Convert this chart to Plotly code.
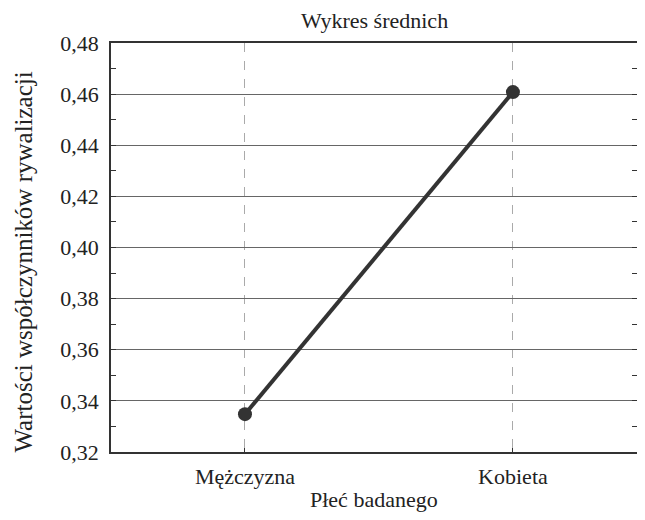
import plotly.graph_objects as go

categories = ["Mężczyzna", "Kobieta"]
means = [0.3348, 0.4608]
y_ticks = [0.32, 0.34, 0.36, 0.38, 0.40, 0.42, 0.44, 0.46, 0.48]

title_text = "Wykres średnich"
x_title = "Płeć badanego"
y_title = "Wartości współczynników rywalizacji"

FONT = "Liberation Serif"
DARK = "#333333"
TXT = "#222222"

fig = go.Figure()
fig.add_trace(go.Scatter(
    x=categories, y=means, mode="lines+markers",
    line=dict(color=DARK, width=4),
    marker=dict(color=DARK, size=14),
    showlegend=False,
))
fig.add_trace(go.Scatter(x=categories, y=means, yaxis="y2", mode="markers",
                         marker=dict(opacity=0), showlegend=False, hoverinfo="skip"))

fig.update_layout(
    width=629, height=504,
    margin=dict(l=103, r=0, t=35, b=60, autoexpand=False),
    paper_bgcolor="white", plot_bgcolor="white",
    separators=", ",
    font=dict(family=FONT, size=22, color=TXT),
    xaxis=dict(
        type="category", range=[-0.5, 1.463], automargin=False,
        showline=True, linecolor=DARK, linewidth=1.5, mirror=True,
        showgrid=True, gridcolor="#aaaaaa", griddash="dash", gridwidth=1,
        ticks="inside", ticklen=4, tickcolor=DARK,
        ticklabelstandoff=4,
        tickfont=dict(family=FONT, size=22),
    ),
    yaxis=dict(
        range=[0.32, 0.48], tickvals=y_ticks, tickformat=".2f", automargin=False,
        showline=True, linecolor=DARK, linewidth=1.5,
        showgrid=True, gridcolor="#666666", gridwidth=1.2,
        ticks="inside", ticklen=5, tickcolor=DARK,
        minor=dict(dtick=0.01, ticks="inside", ticklen=5, tickcolor=DARK, showgrid=False),
        ticklabelstandoff=6,
        tickfont=dict(family=FONT, size=22),
        zeroline=False,
    ),
    yaxis2=dict(
        overlaying="y", side="right", matches="y", range=[0.32, 0.48], automargin=False,
        showline=False, showgrid=False, showticklabels=False,
        tickvals=y_ticks, ticks="inside", ticklen=5, tickcolor=DARK,
        minor=dict(dtick=0.01, ticks="inside", ticklen=5, tickcolor=DARK, showgrid=False),
        zeroline=False,
    ),
    annotations=[
        dict(text=title_text, xref="paper", yref="paper", x=0.5, y=1, yshift=23,
             xanchor="center", yanchor="middle", showarrow=False,
             font=dict(family=FONT, size=22)),
        dict(text=x_title, xref="paper", yref="paper", x=0.5, y=0, yshift=-61,
             xanchor="center", yanchor="bottom", showarrow=False, borderpad=0,
             font=dict(family=FONT, size=22)),
        dict(text=y_title, xref="paper", yref="paper", x=0, xshift=-88, y=0.5, yshift=-15,
             xanchor="center", yanchor="middle", textangle=-90, showarrow=False,
             font=dict(family=FONT, size=25)),
    ],
)

fig.write_html("out.html")
